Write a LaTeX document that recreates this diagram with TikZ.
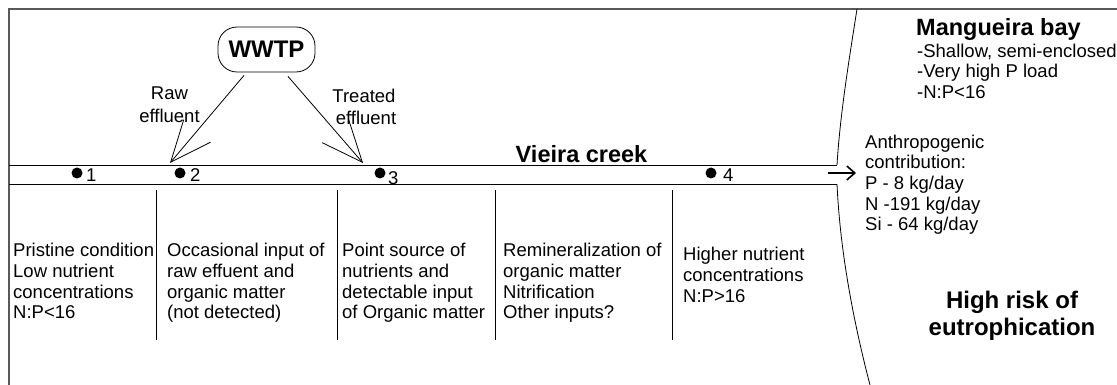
\documentclass[tikz,border=0pt]{standalone}
\usepackage{fontspec}
\setmainfont{Liberation Sans}
\usetikzlibrary{arrows.meta}
\begin{document}
\begin{tikzpicture}[x=1pt,y=-1pt,
  ln/.style={line width=0.8pt, draw=black},
  frame/.style={line width=1.1pt, draw=black!65},
  body/.style={font=\fontsize{18.5}{20.7}\selectfont, inner sep=0pt, align=left, anchor=north west},
  lbl/.style={font=\fontsize{18.5}{22.5}\selectfont, inner sep=0pt, align=center, anchor=north},
  num/.style={font=\fontsize{18.5}{20}\selectfont, inner sep=0pt, anchor=base west},
  head/.style={font=\bfseries\fontsize{23.5}{27}\selectfont, inner sep=0pt},
  dot/.style={circle, fill=black, minimum size=11pt, inner sep=0pt},
  plant/.style={draw, line width=0.8pt, rounded corners=19pt, minimum width=97pt, minimum height=45pt, inner sep=0pt, font=\bfseries\fontsize{24}{28}\selectfont},
  inflow/.style={ln, -{Straight Barb[length=41pt, width=35pt, line width=0.8pt]}},
  outflow/.style={line width=1.6pt, -{Straight Barb[length=8pt, width=14pt, line width=1.6pt]}}
]
\useasboundingbox (0,0) rectangle (1117,385);

% frame
\draw[frame] (1117,9) -- (9,9) -- (9,385);

% creek banks
\coordinate (cTL) at (9,165);
\coordinate (cTR) at (837,165);
\coordinate (cBL) at (9,184);
\coordinate (cBR) at (837,184);
\draw[ln] (cTL) -- (cTR);
\draw[ln] (cBL) -- (cBR);

% bay shore
\coordinate (shoreTop) at (857,9);
\coordinate (shoreBot) at (870,385);
\draw[ln] (shoreTop) .. controls (849,60) and (840,115) .. (cTR);
\draw[ln] (cBR) .. controls (840,250) and (853,320) .. (shoreBot);

% dividers
\foreach \xx in {156,337,495,672}{
  \draw[ln] (\xx,190) -- (\xx,340);
}

% WWTP and effluent arrows
\node[plant] (wwtp) at (266.5,49.5) {WWTP};
\coordinate (in2) at (170,163);
\coordinate (in3) at (363,163);
\draw[inflow] ([xshift=-22.5pt,yshift=-3pt]wwtp.south) -- (in2);
\draw[inflow] ([xshift=21.5pt,yshift=-4pt]wwtp.south) -- (in3);
\node[lbl] (raw) at (169.5,87) {Raw\\effluent};
\node[lbl] (treated) at (364,88.5) {Treated\\\hspace*{4pt}effluent};

\node[head, anchor=base] (creek) at (581.5,163) {Vieira creek};

% sampling stations
\node[dot] (s1) at (77,173) {};
\node[dot] (s2) at (180,173) {};
\node[dot] (s3) at (380,173) {};
\node[dot] (s4) at (711,173) {};
\node[num] (n1) at (86,182) {1};
\node[num] (n2) at (190,182) {2};
\node[num] (n3) at (388,185) {3};
\node[num] (n4) at (723,182) {4};

% column texts
\node[body] (t1) at (13,243) {Pristine condition\\Low nutrient\\concentrations\\N:P<16};
\node[body] (t2) at (167,243) {Occasional input of\\raw effuent and\\organic matter\\(not detected)};
\node[body] (t3) at (342,243) {Point source of\\nutrients and\\detectable input\\of Organic matter};
\node[body] (t4) at (503,243) {Remineralization of\\organic matter\\Nitrification\\Other inputs?};
\node[body] (t5) at (683,247) {Higher nutrient\\concentrations\\N:P>16};

% bay side
\node[head, anchor=base west] (bay) at (916,36) {Mangueira bay};
\node[body] (baytxt) at (917,43.5) {-Shallow, semi-enclosed\\-Very high P load\\-N:P<16};
\node[body] (anthro) at (865,134.5) {Anthropogenic\\contribution:\\P - 8 kg/day\\N -191 kg/day\\Si - 64 kg/day};
\coordinate (outS) at (828,173);
\coordinate (outE) at (856,173);
\draw[outflow] (outS) -- (outE);
\node[head, font=\bfseries\fontsize{24}{27}\selectfont, align=center, anchor=north] (risk) at (1012,290.5) {High risk of\\eutrophication};
\end{tikzpicture}
\end{document}
